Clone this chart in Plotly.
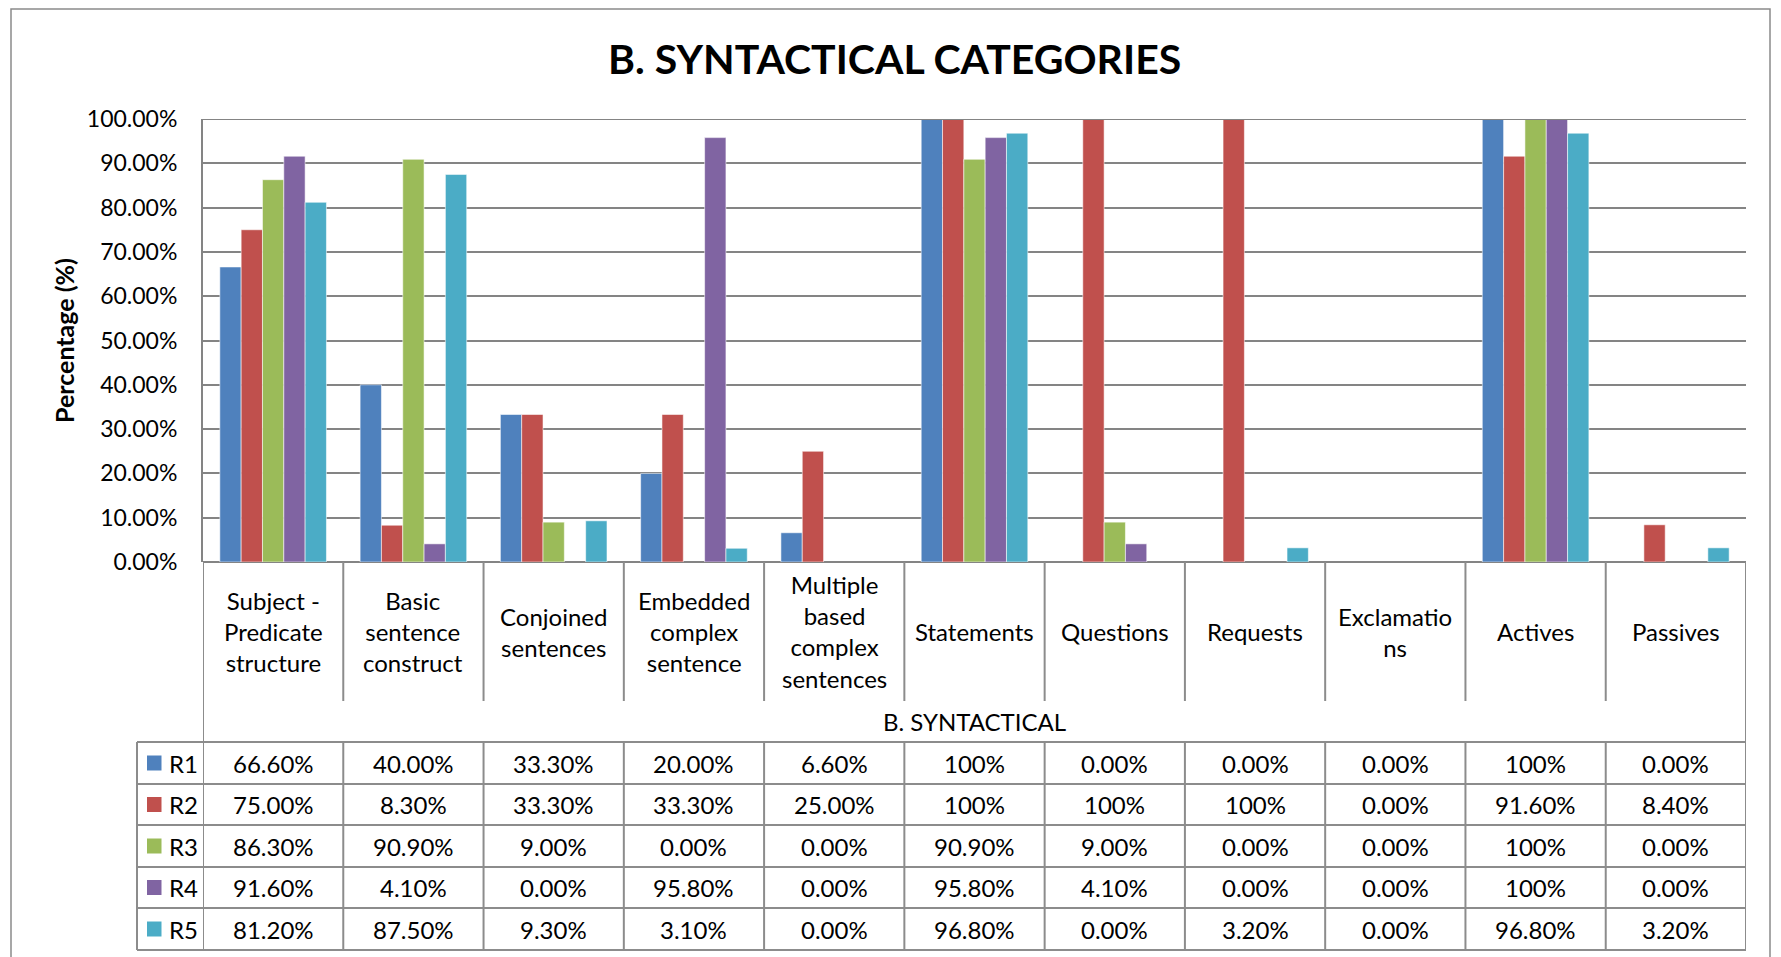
import plotly.graph_objects as go

# ---------------- data ----------------
categories = [
    "Subject -<br>Predicate<br>structure",
    "Basic<br>sentence<br>construct",
    "Conjoined<br>sentences",
    "Embedded<br>complex<br>sentence",
    "Multiple<br>based<br>complex<br>sentences",
    "Statements",
    "Questions",
    "Requests",
    "Exclamatio<br>ns",
    "Actives",
    "Passives",
]
group_label = "B. SYNTACTICAL"
series_names = ["R1", "R2", "R3", "R4", "R5"]
r1 = [66.6, 40.0, 33.3, 20.0, 6.6, 100, 0.0, 0.0, 0.0, 100, 0.0]
r2 = [75.0, 8.3, 33.3, 33.3, 25.0, 100, 100, 100, 0.0, 91.6, 8.4]
r3 = [86.3, 90.9, 9.0, 0.0, 0.0, 90.9, 9.0, 0.0, 0.0, 100, 0.0]
r4 = [91.6, 4.1, 0.0, 95.8, 0.0, 95.8, 4.1, 0.0, 0.0, 100, 0.0]
r5 = [81.2, 87.5, 9.3, 3.1, 0.0, 96.8, 0.0, 3.2, 0.0, 96.8, 3.2]
series_values = [r1, r2, r3, r4, r5]
colors = ["#4F81BD", "#C0504D", "#9BBB59", "#8064A2", "#4BACC6"]
title_text = "B. SYNTACTICAL CATEGORIES"
y_title = "Percentage (%)"

# ---------------- layout geometry (pixels, page coords) ----------------
W, H = 1781, 957
OFF = 8  # default page body margin offsets the figure by 8px
PL, PR, PT, PB = 203 - OFF, 1746 - OFF, 119 - OFF, 562 - OFF
FONT = "Lato"
GRID = "#848484"
LINE = "#8c8c8c"


def py(p):
    """page pixel y -> paper y"""
    return (PB - (p - OFF)) / (PB - PT)


def pxp(p):
    """page pixel x -> paper x"""
    return ((p - OFF) - PL) / (PR - PL)


def fmt(v):
    return "100%" if v == 100 else f"{v:.2f}%"


n = len(categories)
xs = list(range(n))

fig = go.Figure()
for name, vals, col in zip(series_names, series_values, colors):
    fig.add_trace(go.Bar(
        x=xs, y=vals, name=name,
        marker=dict(color=col,
                    line=dict(color="rgba(255,255,255,0.55)",
                              width=[1 if v > 0 else 0 for v in vals])),
        showlegend=False,
    ))

shapes = []
annotations = []

# outer chart frame
shapes.append(dict(type="rect", xref="paper", yref="paper",
                   x0=pxp(11), x1=pxp(1770), y0=py(9), y1=py(975),
                   line=dict(color="#8a8a8a", width=1.5), layer="below"))

# top gridline (100%)
shapes.append(dict(type="line", xref="paper", yref="y", x0=0, x1=1, y0=100, y1=100,
                   line=dict(color=GRID, width=2)))

# table geometry (page px)
plot_bottom = 562
cat_row_bottom = 701
data_rows = [742, 784, 825, 867, 908, 950]
legend_left = 137

for i in range(n + 1):
    x = i - 0.5
    y_end = data_rows[-1] if i in (0, n) else cat_row_bottom
    shapes.append(dict(type="line", xref="x", yref="paper", x0=x, x1=x,
                       y0=py(plot_bottom), y1=py(y_end), line=dict(color=LINE, width=2)))
    shapes.append(dict(type="line", xref="x", yref="paper", x0=x, x1=x,
                       y0=py(data_rows[0]), y1=py(data_rows[-1]),
                       line=dict(color=LINE, width=2)))
shapes.append(dict(type="line", xref="paper", yref="paper",
                   x0=pxp(legend_left), x1=pxp(legend_left),
                   y0=py(data_rows[0]), y1=py(data_rows[-1]),
                   line=dict(color=LINE, width=2)))
for yv in data_rows:
    shapes.append(dict(type="line", xref="paper", yref="paper",
                       x0=pxp(legend_left), x1=1, y0=py(yv), y1=py(yv),
                       line=dict(color=LINE, width=2)))

# category labels
for i, c in enumerate(categories):
    annotations.append(dict(x=i, xref="x", y=py((plot_bottom + cat_row_bottom) / 2), yref="paper",
                            text=c, showarrow=False, align="center",
                            xanchor="center", yanchor="middle",
                            font=dict(family=FONT, size=24, color="black")))
annotations.append(dict(x=0.5, xref="paper", y=py((cat_row_bottom + data_rows[0]) / 2),
                        yref="paper", text=group_label, showarrow=False,
                        xanchor="center", yanchor="middle",
                        font=dict(family=FONT, size=24, color="black")))

# data table cells + legend keys
for r, (name, vals, col) in enumerate(zip(series_names, series_values, colors)):
    yc = (data_rows[r] + data_rows[r + 1]) / 2
    shapes.append(dict(type="rect", xref="paper", yref="paper",
                       x0=pxp(147), x1=pxp(161.5), y0=py(yc + 7.5), y1=py(yc - 7.5),
                       fillcolor=col, line=dict(width=0)))
    annotations.append(dict(x=pxp(167), xref="paper", y=py(yc), yref="paper",
                            text=name, showarrow=False, xanchor="left", yanchor="middle",
                            font=dict(family=FONT, size=24, color="black")))
    for i, v in enumerate(vals):
        annotations.append(dict(x=i, xref="x", y=py(yc), yref="paper",
                                text=fmt(v), showarrow=False,
                                xanchor="center", yanchor="middle",
                                font=dict(family=FONT, size=24, color="black")))

# title
annotations.append(dict(x=pxp(894), xref="paper", y=py(58), yref="paper",
                        text=f"<b>{title_text}</b>", showarrow=False,
                        xanchor="center", yanchor="middle",
                        font=dict(family=FONT, size=41, color="black")))
# y axis title
annotations.append(dict(x=pxp(64), xref="paper", y=py(341), yref="paper",
                        text=f"<b>{y_title}</b>", showarrow=False, textangle=-90,
                        xanchor="center", yanchor="middle",
                        font=dict(family=FONT, size=25, color="black")))

fig.update_layout(
    width=W, height=H,
    margin=dict(l=PL, r=W - PR, t=PT, b=H - PB, pad=0),
    paper_bgcolor="white", plot_bgcolor="white",
    barmode="group", bargap=0.24, bargroupgap=0,
    font=dict(family=FONT, size=23, color="black"),
    shapes=shapes, annotations=annotations,
    xaxis=dict(range=[-0.5, n - 0.5], showticklabels=False, showgrid=False,
               zeroline=False, showline=False, fixedrange=True),
    yaxis=dict(range=[0, 100], dtick=10, tickformat=".2f", ticksuffix="%",
               showgrid=True, gridcolor=GRID, gridwidth=2,
               zeroline=True, zerolinecolor=GRID, zerolinewidth=2,
               showline=True, linecolor=GRID, linewidth=2,
               ticks="", ticklabelstandoff=19,
               tickfont=dict(family=FONT, size=23, color="black")),
)

fig.write_html("out.html")
